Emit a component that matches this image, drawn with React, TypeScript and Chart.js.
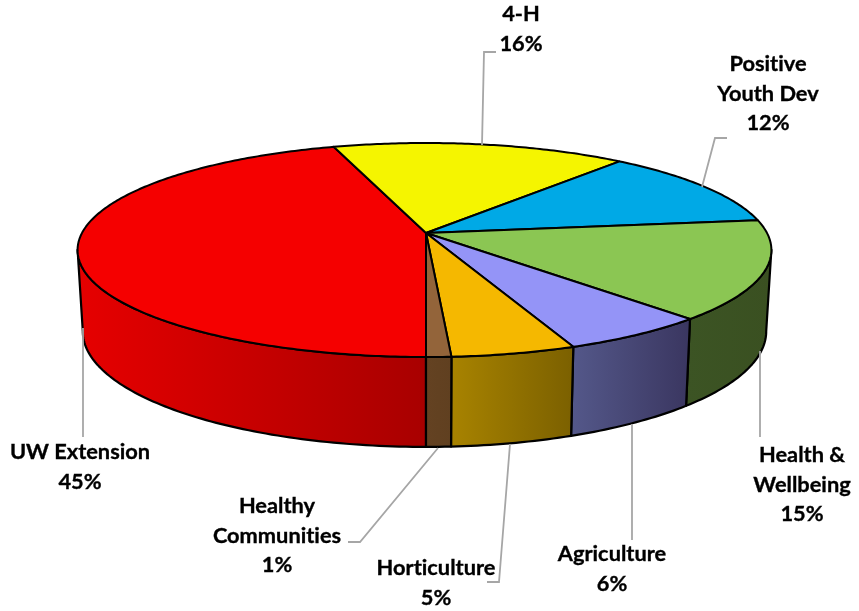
import React, { useEffect, useRef } from "react";
import { Chart, registerables } from "chart.js";

Chart.register(...registerables);

const categories = ["UW Extension", "4-H", "Positive Youth Dev", "Health & Wellbeing", "Agriculture", "Horticulture", "Healthy Communities"];
const labelLines = [["UW Extension"], ["4-H"], ["Positive", "Youth Dev"], ["Health &", "Wellbeing"], ["Agriculture"], ["Horticulture"], ["Healthy", "Communities"]];
const shares = [45, 16, 12, 15, 6, 5, 1];
const topColors = ["#f50000", "#f5f500", "#00a9e6", "#8bc653", "#9494f7", "#f5b800", "#93643a"];
const wallStart = ["#e60000", "#000", "#000", "#3c5424", "#54588a", "#a88300", "#644222"];
const wallEnd = ["#a80000", "#000", "#000", "#3a5021", "#3a3660", "#7b6000", "#604020"];

// Text anchor: centre x and first line centre y of each label.
const labelPos = [[80, 452], [521, 14], [768, 64], [802, 455], [612, 554], [436, 568], [277, 506]];
const leaders = [
  [[83, 328], [83, 437]],
  [[482, 145], [484, 52], [496, 52]],
  [[702, 187], [715, 138], [727, 138]],
  [[760, 351], [760, 437]],
  [[632, 424], [632, 540]],
  [[510, 444], [499, 582], [487, 582]],
  [[438, 448], [360, 542], [348, 542]],
];

const PERSP = 0.159;
const VIS_A = (99 * Math.PI) / 180;
const VIS_B = (261 * Math.PI) / 180;

function project(theta: number, cx: number, cy: number, r: number, bottom: boolean) {
  const u = Math.sin(theta);
  const v = -Math.cos(theta);
  const w = 1 - PERSP * v;
  const kx = (u < 0 ? 344 : 341) / 233;
  if (!bottom) return [cx + (r * kx * u) / w, cy + (r * (104.3 / 233) * v) / w];
  return [cx + (0.985 * r * kx * u) / w, cy + r * (80 / 233) + (r * (112.6 / 233) * v) / w];
}

const pie3d = {
  id: "pie3d",
  beforeDatasetDraw() {
    return false;
  },
  afterDatasetsDraw(chart: any) {
    const ctx = chart.ctx;
    const arcs = chart.getDatasetMeta(0).data;
    ctx.save();
    ctx.lineJoin = "round";
    ctx.strokeStyle = "#000";

    arcs.forEach((arc: any, i: number) => {
      let s = arc.startAngle + Math.PI / 2;
      let e = arc.endAngle + Math.PI / 2;
      if (s >= 2 * Math.PI) {
        s -= 2 * Math.PI;
        e -= 2 * Math.PI;
      }
      const a = Math.max(s, VIS_A);
      const b = Math.min(e, VIS_B);
      if (b <= a) return;
      const n = Math.max(4, Math.ceil((b - a) * 60));
      const top: number[][] = [];
      const bot: number[][] = [];
      for (let k = 0; k <= n; k++) {
        const t = a + ((b - a) * k) / n;
        top.push(project(t, arc.x, arc.y, arc.outerRadius, false));
        bot.push(project(t, arc.x, arc.y, arc.outerRadius, true));
      }
      const xs = top.concat(bot).map((p) => p[0]);
      const g = ctx.createLinearGradient(Math.min(...xs), 0, Math.max(...xs), 0);
      g.addColorStop(0, wallStart[i]);
      g.addColorStop(1, wallEnd[i]);
      ctx.beginPath();
      top.forEach((p, k) => (k ? ctx.lineTo(p[0], p[1]) : ctx.moveTo(p[0], p[1])));
      bot.reverse().forEach((p) => ctx.lineTo(p[0], p[1]));
      ctx.closePath();
      ctx.fillStyle = g;
      ctx.fill();
      ctx.lineWidth = 2.2;
      ctx.stroke();
    });

    arcs.forEach((arc: any, i: number) => {
      const a = arc.startAngle + Math.PI / 2;
      const b = arc.endAngle + Math.PI / 2;
      const n = Math.max(4, Math.ceil((b - a) * 80));
      ctx.beginPath();
      ctx.moveTo(arc.x, arc.y);
      for (let k = 0; k <= n; k++) {
        const p = project(a + ((b - a) * k) / n, arc.x, arc.y, arc.outerRadius, false);
        ctx.lineTo(p[0], p[1]);
      }
      ctx.closePath();
      ctx.fillStyle = topColors[i];
      ctx.fill();
      ctx.lineWidth = 2;
      ctx.stroke();
    });

    ctx.strokeStyle = "#a6a6a6";
    ctx.lineWidth = 1.8;
    ctx.lineJoin = "miter";
    leaders.forEach((pts) => {
      ctx.beginPath();
      pts.forEach((p, k) => (k ? ctx.lineTo(p[0], p[1]) : ctx.moveTo(p[0], p[1])));
      ctx.stroke();
    });

    ctx.fillStyle = "#000";
    ctx.strokeStyle = "#000";
    ctx.lineWidth = 0.35;
    ctx.font = "bold 21.8px Lato";
    ctx.textRendering = "optimizeSpeed";
    ctx.textAlign = "center";
    ctx.textBaseline = "middle";
    labelLines.forEach((lines, i) => {
      const [x, y] = labelPos[i];
      [...lines, `${shares[i]}%`].forEach((t, k) => {
        ctx.fillText(t, x, y + k * 29.5);
        ctx.strokeText(t, x, y + k * 29.5);
      });
    });
    ctx.restore();
  },
};

export default function App() {
  const ref = useRef<HTMLCanvasElement>(null);
  useEffect(() => {
    document.body.style.margin = "0";
    const chart = new Chart(ref.current as HTMLCanvasElement, {
      type: "pie",
      data: {
        labels: categories,
        datasets: [{ data: shares, backgroundColor: topColors, borderWidth: 0 }],
      },
      options: {
        responsive: false,
        animation: false,
        rotation: 180,
        layout: { padding: { left: 0, right: 7, top: 0, bottom: 145 } },
        plugins: { legend: { display: false }, tooltip: { enabled: false } },
      },
      plugins: [pie3d],
    } as any);
    return () => chart.destroy();
  }, []);
  return <canvas ref={ref} width={859} height={611} style={{ display: "block", background: "#fff" }} />;
}
